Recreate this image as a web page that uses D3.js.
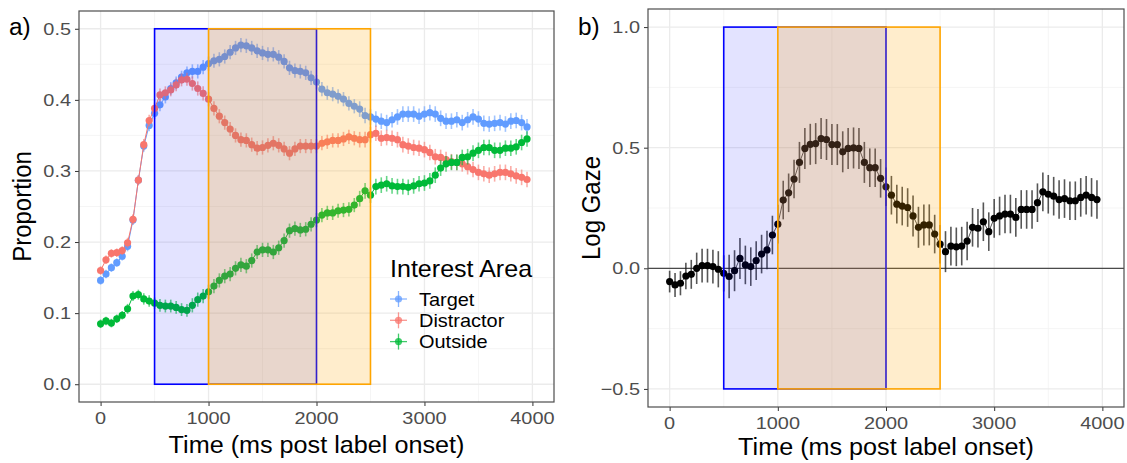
<!DOCTYPE html>
<html>
<head>
<meta charset="utf-8">
<script src="https://cdn.jsdelivr.net/npm/d3@7"></script>
<style>
	body { margin: 0; background: #fff; }
	text { font-family: "Liberation Sans", Arial, sans-serif; }
</style>
</head>
<body>
<div class="box"></div>
<script>
// time bins, 50 ms each, 0 .. 3950
var bins = d3.range(0, 4000, 50);

var xTicks = [0, 1000, 2000, 3000, 4000];
var xMinor = [500, 1500, 2500, 3500];
var yTicksA = [0, 0.1, 0.2, 0.3, 0.4, 0.5];
var yMinorA = [0.05, 0.15, 0.25, 0.35, 0.45];
var yTicksB = [-0.5, 0, 0.5, 1.0];
var yMinorB = [-0.25, 0.25, 0.75];

var seriesNames = ['Target', 'Distractor', 'Outside'];
var seriesColors = ['#619CFF', '#F8766D', '#00BA38'];

var target = [
	.146, .155, .164, .171, .180, .194, .231, .287, .335, .364,
	.381, .393, .404, .416, .424, .432, .438, .440, .440, .446,
	.451, .455, .457, .461, .467, .473, .477, .476, .473, .469,
	.466, .464, .464, .460, .454, .445, .441, .440, .438, .431,
	.425, .415, .410, .408, .405, .401, .395, .391, .387, .378,
	.376, .373, .370, .368, .372, .376, .380, .380, .380, .377,
	.380, .382, .380, .374, .370, .370, .372, .368, .372, .376,
	.373, .367, .366, .367, .368, .366, .370, .371, .368, .362
];
var distractor = [
	.160, .175, .184, .185, .188, .199, .232, .287, .337, .371,
	.388, .407, .410, .414, .421, .428, .429, .423, .416, .409,
	.401, .388, .377, .368, .359, .350, .344, .343, .337, .332,
	.333, .336, .339, .336, .331, .325, .331, .335, .335, .335,
	.335, .339, .341, .343, .343, .345, .348, .346, .344, .344,
	.351, .353, .346, .347, .346, .344, .337, .335, .333, .332,
	.330, .326, .320, .319, .316, .313, .312, .310, .306, .302,
	.298, .296, .294, .296, .298, .298, .296, .293, .291, .288
];
var outside = [
	.085, .089, .086, .092, .097, .106, .124, .126, .120, .117,
	.114, .111, .110, .110, .108, .105, .104, .111, .119, .124,
	.130, .138, .146, .152, .155, .163, .168, .166, .174, .186,
	.189, .189, .186, .192, .202, .216, .219, .217, .218, .225,
	.231, .238, .241, .241, .244, .245, .246, .252, .261, .272,
	.266, .278, .280, .282, .279, .278, .278, .277, .279, .282,
	.283, .286, .294, .304, .310, .312, .312, .319, .320, .325,
	.329, .333, .333, .329, .329, .332, .332, .334, .340, .345
];
// standard error of the proportions (shared by the three areas)
var seProp = [
	.006, .006, .006, .006, .006, .007, .007, .007, .008, .008,
	.008, .009, .009, .009, .009, .009, .009, .010, .010, .010,
	.010, .010, .010, .010, .010, .010, .010, .010, .010, .010,
	.010, .010, .010, .010, .010, .010, .010, .010, .010, .010,
	.010, .010, .010, .010, .010, .010, .010, .010, .011, .011,
	.011, .011, .011, .011, .011, .011, .011, .011, .011, .011,
	.011, .011, .011, .011, .011, .011, .011, .011, .011, .011,
	.011, .011, .011, .011, .011, .011, .011, .011, .011, .011
];

var logGaze = [
	-.055, -.069, -.062, -.032, -.025, .000, .011, .011, .007, -.004,
	-.021, -.034, -.010, .041, .014, .007, .032, .059, .076, .138,
	.183, .283, .313, .370, .439, .497, .514, .517, .538, .534,
	.513, .513, .483, .497, .499, .497, .439, .417, .417, .373,
	.338, .303, .266, .258, .252, .217, .170, .180, .180, .142,
	.100, .069, .092, .089, .092, .113, .170, .166, .193, .152,
	.207, .217, .225, .225, .211, .244, .244, .244, .272, .317,
	.307, .299, .285, .289, .280, .280, .294, .303, .294, .285
];
var seGaze = [
	.045, .050, .050, .055, .060, .065, .070, .070, .070, .075,
	.075, .090, .085, .085, .080, .080, .080, .080, .080, .080,
	.080, .080, .080, .080, .085, .085, .085, .085, .085, .085,
	.085, .085, .085, .085, .085, .085, .085, .080, .080, .080,
	.080, .080, .080, .080, .080, .085, .085, .085, .085, .080,
	.080, .085, .080, .080, .080, .080, .080, .080, .080, .080,
	.080, .080, .080, .080, .080, .080, .080, .080, .080, .080,
	.080, .080, .080, .080, .080, .080, .080, .080, .080, .080
];

// analysis windows: [start, end] in ms
var windowBlue = [500, 2000];
var windowOrange = [1000, 2500];

var width = 1127, height = 463;
var svg = d3.select('.box').append('svg')
	.attr('width', width)
	.attr('height', height);

// the picture is stretched a little sideways, so text gets a horizontal scale
function label(g, x, y, s, size, sx, anchor, color, rot)
{
	var tr = 'translate(' + x + ',' + y + ')' +
		(rot ? ' rotate(-90) scale(1,' + sx + ')' : ' scale(' + sx + ',1)');
	return g.append('text')
		.attr('transform', tr)
		.attr('text-anchor', anchor)
		.style('font-size', size + 'px')
		.style('fill', color)
		.text(s);
}

function drawPanel(box, yDomain, yTicks, yMinor, yFmt, rectY, tag, yTitle)
{
	var x = d3.scaleLinear().domain([-200, 4200]).range([box.l, box.r]);
	var y = d3.scaleLinear().domain(yDomain).range([box.b, box.t]);

	var g = svg.append('g');

	// grid
	g.selectAll('line.minx').data(xMinor).enter().append('line')
		.attr('x1', x).attr('x2', x).attr('y1', box.t).attr('y2', box.b)
		.style('stroke', '#f2f2f2').style('stroke-width', 0.8);
	g.selectAll('line.miny').data(yMinor).enter().append('line')
		.attr('y1', y).attr('y2', y).attr('x1', box.l).attr('x2', box.r)
		.style('stroke', '#f2f2f2').style('stroke-width', 0.8);
	g.selectAll('line.majx').data(xTicks).enter().append('line')
		.attr('x1', x).attr('x2', x).attr('y1', box.t).attr('y2', box.b)
		.style('stroke', '#ebebeb').style('stroke-width', 1.3);
	g.selectAll('line.majy').data(yTicks).enter().append('line')
		.attr('y1', y).attr('y2', y).attr('x1', box.l).attr('x2', box.r)
		.style('stroke', '#ebebeb').style('stroke-width', 1.3);

	// axes: d3 ticks, labels redrawn stretched
	var ax = d3.axisBottom(x).tickValues(xTicks).tickSize(4);
	var ay = d3.axisLeft(y).tickValues(yTicks).tickSize(4);
	var gx = g.append('g').attr('transform', 'translate(0,' + box.b + ')').call(ax);
	var gy = g.append('g').attr('transform', 'translate(' + box.l + ',0)').call(ay);
	[gx, gy].forEach(function(a) {
		a.select('.domain').remove();
		a.selectAll('line').style('stroke', '#333').style('stroke-width', 1);
		a.selectAll('text').remove();
	});
	xTicks.forEach(function(d) {
		label(g, x(d), box.b + 22, d3.format('d')(d), 17, 1.17, 'middle', '#4d4d4d');
	});
	yTicks.forEach(function(d) {
		label(g, box.l - 8, y(d) + 6, yFmt(d), 17, 1.17, 'end', '#4d4d4d');
	});

	label(g, (box.l + box.r) / 2, box.titleY, 'Time (ms post label onset)', 24, 1.05, 'middle', '#000');
	label(g, box.l - 48, (box.t + box.b) / 2, yTitle, 24, 1.05, 'middle', '#000', true);
	label(g, box.l - 70, 35, tag, 23, 1.06, 'start', '#000');

	var plot = g.append('g');
	return {x: x, y: y, g: plot, box: box, rectY: rectY, root: g};
}

function drawWindows(p)
{
	var x = p.x, y = p.y;
	p.root.append('rect')
		.attr('x', x(windowBlue[0])).attr('width', x(windowBlue[1]) - x(windowBlue[0]))
		.attr('y', y(p.rectY[1])).attr('height', y(p.rectY[0]) - y(p.rectY[1]))
		.style('fill', 'blue').style('fill-opacity', 0.11)
		.style('stroke', 'blue').style('stroke-width', 1.6);
	p.root.append('rect')
		.attr('x', x(windowOrange[0])).attr('width', x(windowOrange[1]) - x(windowOrange[0]))
		.attr('y', y(p.rectY[1])).attr('height', y(p.rectY[0]) - y(p.rectY[1]))
		.style('fill', 'orange').style('fill-opacity', 0.2)
		.style('stroke', 'orange').style('stroke-width', 1.6);
	p.root.append('rect')
		.attr('x', p.box.l).attr('y', p.box.t)
		.attr('width', p.box.r - p.box.l).attr('height', p.box.b - p.box.t)
		.style('fill', 'none').style('stroke', '#4d4d4d').style('stroke-width', 1.2);
}

function drawSeries(p, values, se, color, lineColor, barColor, r)
{
	var x = p.x, y = p.y;
	var data = bins.map(function(t, i) { return {t: t, v: values[i], se: se[i]}; });
	var line = d3.line().x(function(d) { return x(d.t); }).y(function(d) { return y(d.v); });

	p.g.append('path').datum(data)
		.attr('d', line)
		.style('fill', 'none').style('stroke', lineColor).style('stroke-width', 1);
	p.g.selectAll(null).data(data).enter().append('line')
		.attr('x1', function(d) { return x(d.t); })
		.attr('x2', function(d) { return x(d.t); })
		.attr('y1', function(d) { return y(d.v - d.se); })
		.attr('y2', function(d) { return y(d.v + d.se); })
		.style('stroke', barColor).style('stroke-width', 1.6);
	p.g.selectAll(null).data(data).enter().append('circle')
		.attr('cx', function(d) { return x(d.t); })
		.attr('cy', function(d) { return y(d.v); })
		.attr('r', r)
		.style('fill', color);
}

// panel a
var pa = drawPanel({l: 79, r: 554, t: 11, b: 402, titleY: 453}, [-0.025, 0.525], yTicksA, yMinorA,
	d3.format('.1f'), [0, 0.5], 'a)', 'Proportion');
var propSeries = [target, distractor, outside];
propSeries.forEach(function(vals, i) {
	var c = seriesColors[i];
	drawSeries(pa, vals, seProp, c, c, d3.color(c).copy({opacity: 0.6}) + '', 3.6);
});
drawWindows(pa);

// legend
var lg = pa.root.append('g');
label(lg, 390, 277, 'Interest Area', 23, 1.09, 'start', '#000');
seriesNames.forEach(function(n, i) {
	var cy = 299 + i * 21.3;
	var c = d3.color(seriesColors[i]).copy({opacity: 0.75}) + '';
	lg.append('line').attr('x1', 390).attr('x2', 407).attr('y1', cy).attr('y2', cy)
		.style('stroke', c).style('stroke-width', 1.3);
	lg.append('line').attr('x1', 398.5).attr('x2', 398.5).attr('y1', cy - 8).attr('y2', cy + 8)
		.style('stroke', c).style('stroke-width', 1.3);
	lg.append('circle').attr('cx', 398.5).attr('cy', cy).attr('r', 3.6).style('fill', c);
	label(lg, 419, cy + 6.5, n, 17.5, 1.14, 'start', '#000');
});

// panel b
var pb = drawPanel({l: 648, r: 1124, t: 9, b: 407, titleY: 455}, [-0.575, 1.075], yTicksB, yMinorB,
	d3.format('.1f'), [-0.5, 1.0], 'b)', 'Log Gaze');
pb.g.append('line')
	.attr('x1', pb.box.l).attr('x2', pb.box.r)
	.attr('y1', pb.y(0)).attr('y2', pb.y(0))
	.style('stroke', '#222').style('stroke-width', 1);
drawSeries(pb, logGaze, seGaze, '#000', '#555', 'rgba(30,30,30,0.75)', 3.6);
drawWindows(pb);
</script>
</body>
</html>
